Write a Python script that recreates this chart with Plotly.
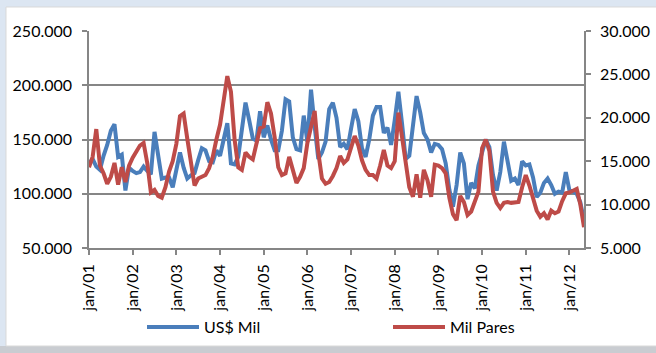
import numpy as np
import plotly.graph_objects as go

# Monthly series, jan/2001 .. may/2012
us_mil_k = [  # US$ thousand (in thousands)
    128, 132, 125, 122, 135, 145, 158, 164, 134, 136, 103, 124,
    121, 119, 120, 125, 121, 118, 157, 136, 114, 115, 115, 106,
    122, 138, 124, 114, 117, 119, 131, 142, 140, 130, 129, 140,
    135, 152, 165, 128, 127, 134, 158, 184, 168, 151, 149, 176,
    152, 163, 150, 140, 140, 158, 187, 185, 152, 141, 140, 172,
    148, 196, 162, 132, 138, 148, 178, 184, 170, 143, 146, 141,
    160, 178, 167, 142, 134, 150, 172, 180, 180, 156, 161, 145,
    168, 194, 165, 132, 135, 160, 190, 175, 156, 150, 138, 146,
    145, 141, 128, 104, 88, 108, 138, 128, 95, 110, 105, 126,
    138, 150, 143, 117, 103, 120, 148, 130, 112, 114, 108, 130,
    126, 127, 115, 97, 101, 110, 114, 108, 100, 102, 101, 120,
    103, 102, 100, 92, 75,
]
mil_pares = [  # thousand pairs
    14.3, 15.5, 18.7, 14.5, 13.6, 12.4, 13.2, 14.8, 12.3, 14.3, 12.6, 14.5,
    15.4, 16.1, 16.8, 17.1, 14.8, 11.4, 11.7, 11.0, 10.8, 12.0, 13.8, 15.0,
    17.0, 20.2, 20.5, 17.6, 15.2, 12.2, 13.0, 13.2, 13.4, 14.2, 15.5, 17.5,
    19.2, 22.0, 24.8, 23.0, 17.5, 14.3, 14.0, 16.0, 15.5, 15.2, 16.8, 18.8,
    19.0, 21.8, 20.5, 17.8, 14.3, 13.4, 13.6, 15.5, 14.0, 12.5, 13.2, 14.2,
    17.1, 19.0, 20.8, 16.0, 13.0, 12.4, 12.6, 13.3, 14.2, 15.6, 14.8, 15.2,
    16.6, 17.9, 16.8, 15.1, 14.0, 13.4, 13.4, 13.0, 14.5, 16.3, 14.5, 14.2,
    15.0, 20.6, 17.8, 14.8, 12.0, 10.9, 13.5, 10.8, 14.0, 12.8, 10.9, 14.6,
    14.5, 14.2, 13.6, 10.8, 8.9, 8.2, 11.0, 10.3, 8.8, 9.2, 10.5, 11.5,
    16.5, 17.5, 16.2, 11.5, 10.2, 9.6, 10.2, 10.3, 10.2, 10.3, 10.3, 12.0,
    13.4, 12.2, 10.7, 9.3, 8.6, 9.0, 8.3, 9.3, 9.0, 9.2, 10.4, 11.3,
    11.4, 11.6, 11.8, 10.0, 7.4,
]
years = ["01", "02", "03", "04", "05", "06", "07", "08", "09", "10", "11", "12"]
tick_labels = ["jan/" + y for y in years]
series_names = ["US$ Mil", "Mil Pares"]

usd = np.array(us_mil_k) * 1000
pares = np.array(mil_pares) * 1000
months = np.arange(len(usd))
tick_pos = [12 * i for i in range(len(years))]

BLUE = "#4a7ebb"
RED = "#be4b48"
AXIS = "#868686"
FONT = "Lato"
LW = 4

fig = go.Figure()
fig.add_trace(go.Scatter(x=months, y=usd, name=series_names[0], mode="lines",
                         line=dict(color=BLUE, width=LW)))
fig.add_trace(go.Scatter(x=months, y=pares, name=series_names[1], mode="lines",
                         yaxis="y2", line=dict(color=RED, width=LW)))

W, H = 656, 353
L, R, T, B = 89, 72, 31, 105
pw, ph = W - L - R, H - T - B


def px_x(p):
    return (p - L) / pw


def px_y(p):
    return (H - B - p) / ph


# frame around the chart area
shapes = [
    dict(type="rect", xref="paper", yref="paper", x0=px_x(0), x1=px_x(W),
         y0=px_y(0), y1=px_y(7), fillcolor="#dce6f2", line_width=0, layer="below"),
    dict(type="rect", xref="paper", yref="paper", x0=px_x(0), x1=px_x(6),
         y0=px_y(H), y1=px_y(0), fillcolor="#dce6f2", line_width=0, layer="below"),
    dict(type="rect", xref="paper", yref="paper", x0=px_x(0), x1=px_x(W),
         y0=px_y(H), y1=px_y(346), fillcolor="#c9ccd1", line_width=0, layer="below"),
    dict(type="rect", xref="paper", yref="paper", x0=px_x(6), x1=px_x(W + 5),
         y0=px_y(346), y1=px_y(7), fillcolor="white",
         line=dict(color="#d9d9d9", width=1), layer="below"),
]

# legend drawn below the axis: a line sample followed by the series name
annotations = []
legend_items = [(147, BLUE, series_names[0]), (393, RED, series_names[1])]
ly = px_y(327)
for x0, color, name in legend_items:
    shapes.append(dict(type="line", xref="paper", yref="paper",
                       x0=px_x(x0), x1=px_x(x0 + 52), y0=ly, y1=ly,
                       line=dict(color=color, width=LW)))
    annotations.append(dict(xref="paper", yref="paper", x=px_x(x0 + 55), y=ly,
                            xanchor="left", yanchor="middle", text=name,
                            showarrow=False, font=dict(family=FONT, size=16)))

fig.update_layout(
    width=W, height=H,
    margin=dict(l=L, r=R, t=T, b=B, autoexpand=False),
    paper_bgcolor="white", plot_bgcolor="white",
    separators=",.",
    font=dict(family=FONT, size=16, color="black"),
    shapes=shapes, annotations=annotations, showlegend=False,
    xaxis=dict(
        range=[0, len(usd) - 1], tickmode="array", tickvals=tick_pos,
        ticktext=tick_labels, tickangle=-90, showgrid=False, zeroline=False,
        showline=True, linecolor=AXIS, linewidth=1.5, automargin=False,
        ticks="outside", ticklen=5, tickcolor=AXIS, tickwidth=1.5,
        ticklabelstandoff=3,
    ),
    yaxis=dict(
        range=[50000, 250000], dtick=50000, tickformat=",d",
        showgrid=True, gridcolor=AXIS, gridwidth=1.5, zeroline=False,
        showline=True, linecolor=AXIS, linewidth=1.5, automargin=False,
        ticks="outside", ticklen=5, tickcolor=AXIS, tickwidth=1.5,
        ticklabelstandoff=7,
    ),
    yaxis2=dict(
        range=[5000, 30000], dtick=5000, tickformat=",d", overlaying="y",
        side="right", showgrid=False, zeroline=False, automargin=False,
        showline=True, linecolor=AXIS, linewidth=1.5,
        ticks="outside", ticklen=5, tickcolor=AXIS, tickwidth=1.5,
        ticklabelstandoff=6,
    ),
)

fig.write_html("out.html")
